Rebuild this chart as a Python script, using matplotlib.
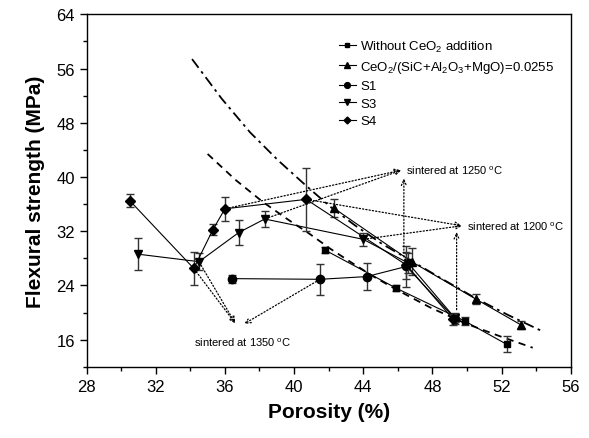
import matplotlib
matplotlib.use("Agg")
import matplotlib.pyplot as plt
from matplotlib.ticker import MultipleLocator

plt.rcParams['font.family'] = ['Liberation Sans', 'DejaVu Sans']
plt.rcParams['mathtext.default'] = 'regular'

# data
sq_x = [41.8, 45.9, 49.9, 52.3]
sq_y = [29.2, 23.6, 18.7, 15.3]
sq_e = [0.4, 0.4, 0.6, 1.2]

tri_x = [42.3, 46.8, 50.5, 53.1]
tri_y = [35.4, 27.5, 22.0, 18.2]
tri_e = [1.3, 2.0, 0.8, 0.6]

s1_x = [36.4, 41.5, 44.2, 46.5, 49.3]
s1_y = [25.0, 24.9, 25.3, 26.8, 19.1]
s1_e = [0.6, 2.3, 2.0, 3.0, 0.8]

s3_x = [31.0, 34.5, 36.8, 38.3, 44.0, 46.6, 49.3]
s3_y = [28.6, 27.5, 31.8, 33.8, 30.8, 27.3, 19.2]
s3_e = [2.4, 1.3, 1.8, 1.2, 1.0, 1.5, 0.6]

s4_x = [30.5, 34.2, 35.3, 36.0, 40.7, 46.5, 49.2]
s4_y = [36.5, 26.5, 32.2, 35.3, 36.7, 27.0, 19.0]
s4_e = [1.0, 2.4, 0.8, 1.8, 4.6, 2.0, 0.8]

# fitted trend curves
fit1_x = [34.1, 35.8, 37.45, 39.1, 40.7, 42.1, 43.5, 45.1, 46.8, 48.6, 50.5, 52.4, 54.3]
fit1_y = [57.4, 51.6, 46.6, 42.4, 38.7, 35.6, 32.9, 30.1, 27.6, 24.9, 22.1, 19.6, 17.3]
fit2_x = [35.0, 36.6, 38.2, 39.6, 40.9, 42.1, 43.3, 44.6, 45.9, 47.9, 49.9, 51.9, 53.8]
fit2_y = [43.4, 39.6, 36.3, 33.8, 31.6, 29.4, 27.4, 25.3, 23.4, 20.7, 18.4, 16.5, 14.8]

fig = plt.figure(figsize=(5.89, 4.39), dpi=100)
ax = fig.add_axes([0.147, 0.1624, 0.822, 0.8026])

ax.plot(fit1_x, fit1_y, color='black', lw=1.3, dashes=(6, 2.5, 1.5, 2.5))
ax.plot(fit2_x, fit2_y, color='black', lw=1.3, dashes=(4, 3))

series = [
    (sq_x, sq_y, sq_e, 's', 4.5, 'Without CeO$_2$ addition'),
    (tri_x, tri_y, tri_e, '^', 6, 'CeO$_2$/(SiC+Al$_2$O$_3$+MgO)=0.0255'),
    (s1_x, s1_y, s1_e, 'o', 6, 'S1'),
    (s3_x, s3_y, s3_e, 'v', 6, 'S3'),
    (s4_x, s4_y, s4_e, 'D', 5, 'S4'),
]
for x, y, e, m, ms, lab in series:
    ax.errorbar(x, y, yerr=e, fmt='none', ecolor='#333333', elinewidth=1,
                capsize=3, capthick=1)
    ax.plot(x, y, color='black', lw=0.8, marker=m, ms=ms, label=lab)

# annotation arrows (dotted)
aprops = dict(arrowstyle='->,head_length=0.4,head_width=0.18', linestyle=':',
              color='black', lw=0.9, shrinkA=3, shrinkB=0)
t1250 = (46.2, 41.0)
for src in [(36.0, 35.3), (38.3, 33.8)]:
    ax.annotate('', xy=t1250, xytext=src, arrowprops=aprops)
ax.annotate('', xy=(46.35, 39.8), xytext=(46.35, 27.6), arrowprops=aprops)
ax.text(46.5, 41.0, 'sintered at 1250 $^{o}$C', fontsize=8, va='center')

t1200 = (49.7, 32.8)
for src in [(40.7, 36.7), (44.0, 30.8)]:
    ax.annotate('', xy=t1200, xytext=src, arrowprops=aprops)
ax.annotate('', xy=(49.4, 31.9), xytext=(49.4, 19.8), arrowprops=aprops)
ax.text(50.0, 32.8, 'sintered at 1200 $^{o}$C', fontsize=8, va='center')

for src in [(34.2, 26.5), (34.5, 27.5)]:
    ax.annotate('', xy=(36.6, 18.4), xytext=src, arrowprops=aprops)
ax.annotate('', xy=(37.1, 18.3), xytext=(41.5, 24.9), arrowprops=aprops)
ax.text(34.2, 15.7, 'sintered at 1350 $^{o}$C', fontsize=8, va='center')

ax.set_xlim(28, 56)
ax.set_ylim(12, 64)
ax.xaxis.set_major_locator(MultipleLocator(4))
ax.xaxis.set_minor_locator(MultipleLocator(2))
ax.yaxis.set_major_locator(MultipleLocator(8))
ax.yaxis.set_minor_locator(MultipleLocator(4))
ax.tick_params(which='major', direction='out', length=5, width=1, labelsize=12)
ax.tick_params(which='minor', direction='out', length=3, width=1)
for sp in ax.spines.values():
    sp.set_linewidth(1)

ax.set_xlabel('Porosity (%)', fontsize=15, fontweight='bold', labelpad=6)
ax.set_ylabel('Flexural strength (MPa)', fontsize=15, fontweight='bold', labelpad=8)

ax.legend(loc='upper right', bbox_to_anchor=(0.99, 0.965), frameon=False,
          fontsize=9.5, handlelength=1.3, handletextpad=0.3, labelspacing=0.4,
          markerscale=0.7)

fig.savefig('out.png', dpi=100)
